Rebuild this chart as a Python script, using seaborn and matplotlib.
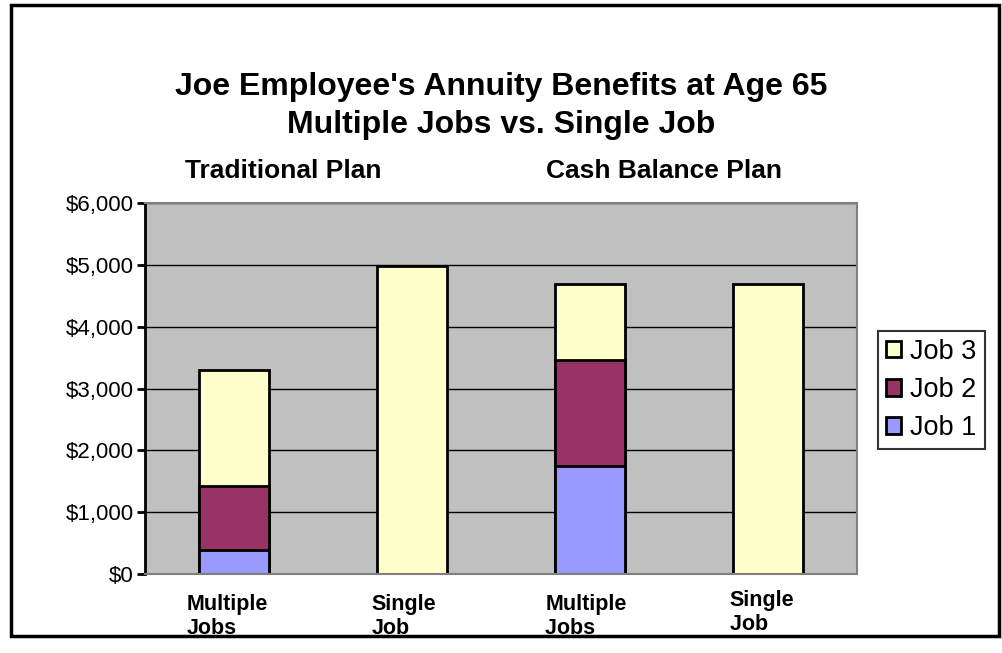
import pandas as pd
import matplotlib.pyplot as plt
import matplotlib.transforms as mtransforms
import seaborn as sns
from matplotlib.patches import Rectangle

# === Данные (оценка по картинке) ===
bars = ["Multiple\nJobs", "Single\nJob", "Multiple\nJobs ", "Single\nJob "]
plans = ["Traditional Plan", "Cash Balance Plan"]
job1 = [390, 0, 1750, 0]
job2 = [1030, 0, 1710, 0]
job3 = [1880, 4980, 1230, 4690]
yticks = [0, 1000, 2000, 3000, 4000, 5000, 6000]
ytick_labels = ["$0", "$1,000", "$2,000", "$3,000", "$4,000", "$5,000", "$6,000"]

colors = {"Job 1": "#9999FF", "Job 2": "#993366", "Job 3": "#FFFFCC"}


def main():
    sns.set_style("white")
    plt.rcParams["font.family"] = ["Liberation Sans", "DejaVu Sans"]
    plt.rcParams["text.color"] = "black"
    plt.rcParams["xtick.color"] = "black"
    plt.rcParams["ytick.color"] = "black"

    df = pd.DataFrame({"bar": bars, "Job 1": job1, "Job 2": job2, "Job 3": job3})
    # накопленные высоты для стопки
    df["c1"] = df["Job 1"]
    df["c2"] = df["c1"] + df["Job 2"]
    df["c3"] = df["c2"] + df["Job 3"]

    fig = plt.figure(figsize=(10.03, 6.53), dpi=100)
    ax = fig.add_axes([145 / 1003, 79 / 653, 712 / 1003, 371 / 653])
    ax.set_facecolor("#C0C0C0")
    ax.set_axisbelow(True)
    ax.yaxis.grid(True, color="black", linewidth=1)

    for col, job in [("c3", "Job 3"), ("c2", "Job 2"), ("c1", "Job 1")]:
        sns.barplot(data=df, x="bar", y=col, ax=ax, color=colors[job],
                    width=0.395, edgecolor="black", linewidth=2,
                    saturation=1, label=job)

    ax.set_xlim(-0.5, 3.5)
    ax.set_ylim(0, 6000)
    ax.set_yticks(yticks)
    ax.set_yticklabels(ytick_labels, fontsize=16)
    ax.set_xlabel("")
    ax.set_ylabel("")
    ax.tick_params(axis="y", left=True, length=6, width=2, pad=2)
    ax.tick_params(axis="x", bottom=False, pad=11)
    ax.set_xticks(range(4))
    ax.set_xticklabels(bars, fontsize=15.5, fontweight="bold",
                       multialignment="left", linespacing=1.15)
    # подписи в оригинале чуть сдвинуты влево
    shifts = [(-7, 0), (-8, 0), (-4, 0), (-6, 4)]
    for lab, (dx, dy) in zip(ax.get_xticklabels(), shifts):
        off = mtransforms.ScaledTranslation(dx / 100, dy / 100, fig.dpi_scale_trans)
        lab.set_transform(lab.get_transform() + off)

    for side in ["top", "right", "bottom"]:
        ax.spines[side].set_color("#808080")
        ax.spines[side].set_linewidth(1.5)
    ax.spines["left"].set_color("black")
    ax.spines["left"].set_linewidth(2)

    handles, labels = ax.get_legend_handles_labels()
    leg = ax.legend(handles, labels, loc="center left",
                    bbox_to_anchor=(878 / 1003, 1 - 390 / 653),
                    bbox_transform=fig.transFigure, frameon=True,
                    fancybox=False, edgecolor="black", fontsize=19.5,
                    handlelength=0.55, handleheight=0.55, handletextpad=0.35,
                    labelspacing=0.45, borderpad=0.3, borderaxespad=0)
    leg.get_frame().set_linewidth(1.5)
    leg.get_frame().set_facecolor("white")

    fig.text(501 / 1003, 1 - 87 / 653, "Joe Employee's Annuity Benefits at Age 65",
             ha="center", va="center", fontsize=23, fontweight="bold")
    fig.text(501 / 1003, 1 - 125 / 653, "Multiple Jobs vs. Single Job",
             ha="center", va="center", fontsize=23, fontweight="bold")
    fig.text(283 / 1003, 1 - 171 / 653, plans[0], ha="center", va="center",
             fontsize=19, fontweight="bold")
    fig.text(664 / 1003, 1 - 171 / 653, plans[1], ha="center", va="center",
             fontsize=19, fontweight="bold")

    # рамка вокруг диаграммы, снизу подписи обрезаны
    fig.patches.append(Rectangle((0, 0), 1, 1 - 636 / 653, transform=fig.transFigure,
                                 facecolor="white", edgecolor="none", zorder=10))
    fig.patches.append(Rectangle((11 / 1003, 1 - 636 / 653), 988 / 1003, 631 / 653,
                                 transform=fig.transFigure, facecolor="none",
                                 edgecolor="black", linewidth=2.5, zorder=11))

    fig.savefig("out.png", dpi=100)
    plt.close(fig)


if __name__ == "__main__":
    main()
